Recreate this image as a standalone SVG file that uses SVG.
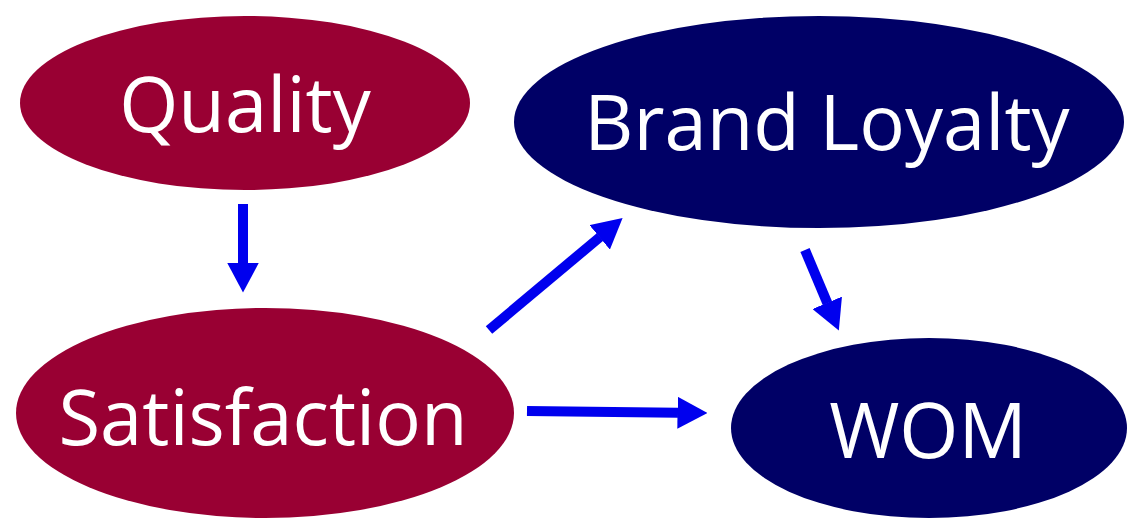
<svg xmlns="http://www.w3.org/2000/svg" width="1128" height="519" viewBox="0 0 1128 519">
<style>
.red{fill:#990033}
.navy{fill:#000066}
.lbl{font-family:"Open Sans","Noto Sans",sans-serif;font-size:76px;fill:#ffffff;text-anchor:middle}
.conn{stroke:#0000ee;stroke-width:10;fill:none;marker-end:url(#ah)}
</style>
<defs>
<marker id="ah" markerUnits="userSpaceOnUse" viewBox="0 0 30 32" refX="0.5" refY="16" markerWidth="30" markerHeight="32" orient="auto">
<path d="M0,0 L30,16 L0,32 Z" fill="#0000ee"/>
</marker>
</defs>
<rect width="1128" height="519" fill="#ffffff"/>
<g id="quality">
<ellipse class="red" cx="245" cy="103" rx="225" ry="87"/>
<text class="lbl" x="245" y="132">Quality</text>
</g>
<g id="brand-loyalty">
<ellipse class="navy" cx="819" cy="122" rx="305" ry="106"/>
<text class="lbl" x="827" y="150">Brand Loyalty</text>
</g>
<g id="satisfaction">
<ellipse class="red" cx="265" cy="413" rx="249" ry="105"/>
<text class="lbl" x="263" y="445">Satisfaction</text>
</g>
<g id="wom">
<ellipse class="navy" cx="929" cy="428" rx="198" ry="90"/>
<text class="lbl" x="928" y="458">WOM</text>
</g>
<g id="connectors">
<path class="conn" d="M243,204 L243,263"/>
<path class="conn" d="M489,330 L600,237"/>
<path class="conn" d="M805,250 L827.4,303.3"/>
<path class="conn" d="M527,411 L678,412.7"/>
</g>
</svg>
